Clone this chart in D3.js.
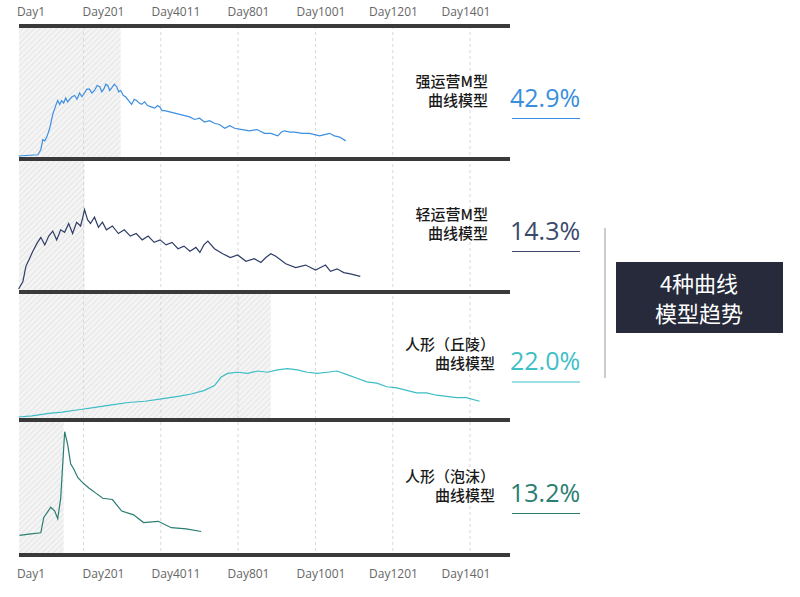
<!DOCTYPE html>
<html><head><meta charset="utf-8">
<script src="https://cdn.jsdelivr.net/npm/d3@7"></script>
<style>body{margin:0;background:#fff;font-family:"Noto Sans CJK SC","Open Sans",sans-serif;}</style>
</head><body><div id="chart"></div>
<script>
// tick labels along top and bottom
const tickLabels = ["Day1", "Day201", "Day4011", "Day801", "Day1001", "Day1201", "Day1401"];
const gridDays = [235, 468, 701, 935, 1168, 1401];

// series: day index and relative level (0-100 of panel height)
const strongDays = [39, 97, 106, 112, 118, 124, 133, 142, 151, 157, 163, 169, 175, 181, 187, 193, 200, 208, 215, 223, 230, 238, 245, 253, 260, 268, 276, 284, 290, 296, 302, 308, 314, 320, 328, 335, 341, 347, 355, 362, 371, 380, 388, 395, 403, 410, 419, 428, 439, 450, 458, 465, 472, 480, 495, 510, 525, 540, 555, 570, 585, 600, 615, 630, 645, 661, 676, 691, 714, 736, 758, 781, 800, 821, 832, 842, 857, 872, 895, 917, 932, 947, 962, 977, 992, 1008, 1026];
const strongVals = [0, 1, 5, 13, 12, 15, 22, 33, 40, 44, 41, 44, 42, 46, 43, 45, 47, 48, 45, 50, 47, 50, 53, 53, 50, 52, 56, 55, 51, 53, 57, 56, 52, 54, 57, 55, 51, 52, 48, 47, 44, 41, 45, 44, 42, 41, 43, 40, 39, 38, 40, 39, 36, 36, 35, 34, 33, 32, 31, 29, 30, 27, 28, 26, 25, 22, 24, 22, 21, 20, 21, 18, 18, 16, 19, 20, 19, 19, 18, 18, 17, 16, 17, 18, 16, 15, 12];

const lightDays = [39, 52, 61, 70, 82, 94, 106, 118, 130, 142, 154, 166, 178, 190, 202, 214, 226, 232, 238, 247, 256, 268, 280, 292, 304, 322, 340, 358, 376, 394, 412, 430, 448, 466, 484, 502, 520, 538, 556, 574, 586, 598, 610, 630, 655, 678, 700, 725, 750, 770, 785, 800, 815, 845, 875, 905, 935, 950, 965, 980, 1000, 1020, 1040, 1070];
const lightVals = [0, 6, 18, 23, 30, 36, 41, 35, 42, 46, 39, 47, 45, 52, 44, 53, 50, 56, 63, 55, 52, 57, 49, 53, 47, 50, 44, 47, 42, 44, 39, 42, 37, 39, 35, 37, 32, 34, 30, 33, 29, 35, 38, 32, 28, 25, 27, 22, 24, 21, 25, 28, 26, 20, 17, 19, 15, 17, 19, 14, 16, 13, 12, 10];

const hillDays = [39, 80, 130, 170, 220, 270, 320, 370, 420, 470, 520, 560, 600, 630, 650, 670, 700, 730, 760, 790, 820, 850, 880, 910, 940, 970, 1000, 1030, 1060, 1090, 1120, 1150, 1180, 1210, 1240, 1270, 1300, 1330, 1360, 1390, 1430];
const hillVals = [0, 1, 3, 4, 6, 8, 10, 12, 13, 15, 17, 19, 22, 26, 33, 36, 37, 36, 38, 37, 39, 40, 39, 37, 36, 37, 38, 35, 32, 29, 28, 25, 24, 22, 20, 20, 18, 17, 16, 16, 13];

const bubbleDays = [42, 70, 106, 115, 136, 148, 157, 166, 178, 187, 196, 205, 218, 233, 251, 272, 293, 322, 350, 386, 416, 460, 500, 545, 590];
const bubbleVals = [13, 14, 15, 27, 35, 32, 26, 42, 94, 84, 69, 65, 58, 54, 50, 46, 42, 41, 32, 29, 23, 24, 19, 18, 16];

const panels = [
  {days: strongDays, vals: strongVals, color: "#3d8fe0", shade: 347, name: ["强运营M型", "曲线模型"], pct: "42.9%", pctColor: "#3a8fdd"},
  {days: lightDays, vals: lightVals, color: "#2f3e66", shade: 238, name: ["轻运营M型", "曲线模型"], pct: "14.3%", pctColor: "#3b4a6b"},
  {days: hillDays, vals: hillVals, color: "#3dbdc6", shade: 800, name: ["人形（丘陵）", "曲线模型"], pct: "22.0%", pctColor: "#3dc0c6"},
  {days: bubbleDays, vals: bubbleVals, color: "#2a7d73", shade: 175, name: ["人形（泡沫）", "曲线模型"], pct: "13.2%", pctColor: "#2a7d70"}
];

const width = 800, height = 597;
const svg = d3.select("#chart").append("svg").attr("width", width).attr("height", height);

const x = d3.scaleLinear().domain([1, 1401]).range([6, 470]);
const left = 19, right = 510;
const rules = [26, 159, 292, 420, 555];

// hatch pattern
const pat = svg.append("defs").append("pattern")
  .attr("id", "hatch").attr("width", 4).attr("height", 4)
  .attr("patternUnits", "userSpaceOnUse").attr("patternTransform", "rotate(45)");
pat.append("rect").attr("width", 4).attr("height", 4).attr("fill", "#f4f4f4");
pat.append("line").attr("x1", 0).attr("y1", 0).attr("x2", 0).attr("y2", 4)
  .attr("stroke", "#d6d6d6").attr("stroke-width", 1);

panels.forEach((p, i) => {
  const top = rules[i] + 2, bottom = rules[i + 1] - 3;
  svg.append("rect").attr("x", left).attr("y", top).attr("width", x(p.shade) - left)
    .attr("height", bottom - top + 2).attr("fill", "url(#hatch)");
});

// gridlines
svg.selectAll(".grid").data(gridDays).enter().append("line")
  .attr("x1", d => x(d)).attr("x2", d => x(d))
  .attr("y1", rules[0]).attr("y2", rules[4])
  .attr("stroke", "#d8d8d8").attr("stroke-dasharray", "3,3");

panels.forEach((p, i) => {
  const top = rules[i] + 2, bottom = rules[i + 1] - 3;
  const y = d3.scaleLinear().domain([0, 100]).range([bottom, top + 2]);
  const line = d3.line().x(d => x(d[0])).y(d => y(d[1]));
  svg.append("path").datum(p.days.map((d, k) => [d, p.vals[k]]))
    .attr("d", line).attr("fill", "none").attr("stroke", p.color).attr("stroke-width", 1.2);

  const mid = (rules[i] + rules[i + 1]) / 2;
  const tx = i >= 2 ? 495 : 488;
  svg.append("text").attr("x", tx).attr("y", mid - 6).attr("text-anchor", "end")
    .attr("font-size", 15).attr("font-weight", 500).attr("fill", "#1a1a1a").text(p.name[0]);
  svg.append("text").attr("x", tx).attr("y", mid + 13).attr("text-anchor", "end")
    .attr("font-size", 15).attr("font-weight", 500).attr("fill", "#1a1a1a").text(p.name[1]);
  svg.append("text").attr("x", 510).attr("y", mid + 14).attr("font-size", 25)
    .attr("font-family", "'Open Sans',sans-serif").attr("fill", p.pctColor).text(p.pct);
  svg.append("line").attr("x1", 512).attr("x2", 580).attr("y1", mid + 26).attr("y2", mid + 26)
    .attr("stroke", p.pctColor).attr("stroke-width", 1);
});

// thick rules
svg.selectAll(".rule").data(rules).enter().append("line")
  .attr("x1", left).attr("x2", right).attr("y1", d => d).attr("y2", d => d)
  .attr("stroke", "#3a3a3a").attr("stroke-width", 4);

// tick labels top and bottom
const lx = d3.scalePoint().domain(tickLabels).range([31, 466]);
[16, 578].forEach(ty => {
  svg.selectAll(null).data(tickLabels).enter().append("text")
    .attr("x", d => lx(d)).attr("y", ty).attr("text-anchor", "middle")
    .attr("font-size", 12).attr("fill", "#666")
    .attr("font-family", "'Open Sans',sans-serif").text(d => d);
});

// summary box
svg.append("line").attr("x1", 605).attr("x2", 605).attr("y1", 228).attr("y2", 378)
  .attr("stroke", "#999").attr("stroke-width", 1);
svg.append("rect").attr("x", 616).attr("y", 262).attr("width", 167).attr("height", 71).attr("fill", "#262a3a");
svg.append("text").attr("x", 699).attr("y", 292).attr("text-anchor", "middle")
  .attr("font-size", 22).attr("fill", "#fff").text("4种曲线");
svg.append("text").attr("x", 699).attr("y", 322).attr("text-anchor", "middle")
  .attr("font-size", 22).attr("fill", "#fff").text("模型趋势");
</script></body></html>
